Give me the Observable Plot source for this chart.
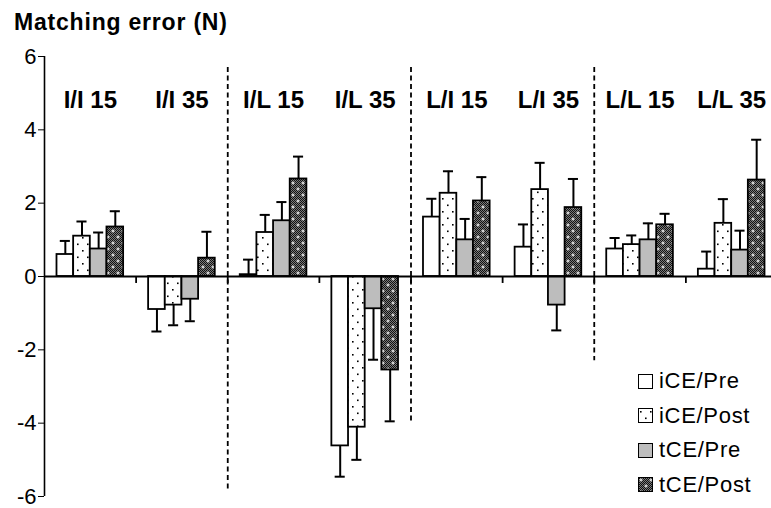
<!DOCTYPE html>
<html>
<head>
<meta charset="utf-8">
<script src="https://cdn.jsdelivr.net/npm/d3@7"></script>
<script src="https://cdn.jsdelivr.net/npm/@observablehq/plot@0.6"></script>
<style>
  html, body { margin: 0; padding: 0; background: #fff; }
  #wrap { position: relative; width: 771px; height: 508px; font-family: "Liberation Sans", Arial, Helvetica, sans-serif; }
  #title { position: absolute; left: 14px; top: 11px; font-size: 23px; line-height: 23px; font-weight: bold; letter-spacing: 0.8px; color: #000; }
  #legend { position: absolute; left: 638px; top: 369px; }
  .row { position: absolute; left: 0; height: 24px; display: flex; align-items: center; white-space: nowrap; font-size: 22px; letter-spacing: 0.7px; color: #000; }
  .row svg { margin-right: 6px; }
</style>
</head>
<body>
<svg width="0" height="0" style="position:absolute">
  <defs>
    <pattern id="dots" width="10" height="13" patternUnits="userSpaceOnUse">
      <rect width="10" height="13" fill="#fff"/>
      <rect x="2" y="3" width="1.6" height="1.6" fill="#000"/>
      <rect x="7" y="9.5" width="1.6" height="1.6" fill="#000"/>
    </pattern>
    <pattern id="grain" width="2" height="2" patternUnits="userSpaceOnUse">
      <rect width="2" height="2" fill="#7a7a7a"/>
      <rect x="0" y="0" width="1" height="1" fill="#111"/>
      <rect x="1" y="1" width="1" height="1" fill="#111"/>
    </pattern>
    <pattern id="cross" width="10" height="12" patternUnits="userSpaceOnUse">
      <rect width="10" height="12" fill="url(#grain)"/>
      <path d="M1.5,3h3M3,1.5v3M6.5,9h3M8,7.5v3" stroke="#fff" stroke-width="1"/>
    </pattern>
  </defs>
</svg>
<div id="wrap">
  <div id="chart"></div>
  <div id="title">Matching error (N)</div>
  <div id="legend"></div>
</div>
<script>
// Conditions (reference/target arm and force level)
const groups = ["I/I 15", "I/I 35", "I/L 15", "I/L 35", "L/I 15", "L/I 35", "L/L 15", "L/L 35"];
const series = ["iCE/Pre", "iCE/Post", "tCE/Pre", "tCE/Post"];

// Mean matching error (N) per condition, and its SD
const iCEPre     = [0.60, -0.90, 0.05, -4.62, 1.62,  0.80, 0.75, 0.20];
const iCEPreSD   = [0.37,  0.60, 0.41,  0.84, 0.50,  0.62, 0.30, 0.48];
const iCEPost    = [1.10, -0.78, 1.20, -4.11, 2.27,  2.37, 0.87, 1.45];
const iCEPostSD  = [0.40,  0.55, 0.48,  0.89, 0.60,  0.73, 0.25, 0.66];
const tCEPre     = [0.75, -0.62, 1.52, -0.88, 1.00, -0.78, 1.00, 0.72];
const tCEPreSD   = [0.45,  0.60, 0.51,  1.39, 0.57,  0.69, 0.45, 0.53];
const tCEPost    = [1.35,  0.50, 2.66, -2.55, 2.06,  1.88, 1.41, 2.63];
const tCEPostSD  = [0.43,  0.72, 0.61,  1.40, 0.65,  0.78, 0.30, 1.10];

const yTicks = [-6, -4, -2, 0, 2, 4, 6];

// Fills for each series
const fills = {
  "iCE/Pre": "#ffffff",
  "iCE/Post": "url(#dots)",
  "tCE/Pre": "#bdbdbd",
  "tCE/Post": "url(#cross)"
};

const means = [iCEPre, iCEPost, tCEPre, tCEPost];
const sds = [iCEPreSD, iCEPostSD, tCEPreSD, tCEPostSD];

// Each group occupies one unit on x; four adjacent bars sit in its middle
const step = 1 / 5.5;
const capHalf = 0.055;
const rows = [];
groups.forEach((g, gi) => {
  series.forEach((s, si) => {
    const mean = means[si][gi];
    const sd = sds[si][gi];
    const cx = gi + 0.5 + (si - 1.5) * step;
    rows.push({
      group: g, series: s, mean, sd,
      cx, x1: cx - step / 2, x2: cx + step / 2,
      end: mean + (mean < 0 ? -sd : sd)
    });
  });
});

// Dashed separators between arm pairings, and small ticks at every group boundary
const separators = [
  {at: 2, top: 5.7, bottom: -5.8},
  {at: 4, top: 5.7, bottom: -4.0},
  {at: 6, top: 5.7, bottom: -2.3}
];
const boundaries = d3.range(1, groups.length);

const chart = Plot.plot({
  width: 771,
  height: 508,
  marginLeft: 44,
  marginRight: 0,
  marginTop: 56,
  marginBottom: 12,
  style: {fontFamily: "Liberation Sans, Arial, Helvetica, sans-serif", fontSize: "22px", color: "#000", background: "#fff"},
  x: {domain: [0, groups.length], range: [44, 777], axis: null},
  y: {domain: [-6, 6], ticks: yTicks, tickSize: 6, tickPadding: 2, tickFormat: d => String(d), label: null},
  marks: [
    Plot.ruleX(separators, {x: "at", y1: "top", y2: "bottom", stroke: "#000", strokeWidth: 1.8, strokeDasharray: "5,3.5"}),
    Plot.ruleX(boundaries, {x: d => d, y1: 0, y2: -0.19, stroke: "#000", strokeWidth: 1.8}),
    Plot.ruleX(rows, {x: "cx", y1: "mean", y2: "end", stroke: "#000", strokeWidth: 2}),
    Plot.ruleY(rows, {y: "end", x1: d => d.cx - capHalf, x2: d => d.cx + capHalf, stroke: "#000", strokeWidth: 2}),
    Plot.rect(rows, {x1: "x1", x2: "x2", y1: 0, y2: "mean", fill: d => fills[d.series], stroke: "#000", strokeWidth: 1.8}),
    Plot.ruleY([0], {x1: 0, x2: groups.length, stroke: "#000", strokeWidth: 2}),
    Plot.ruleX([0], {y1: -6, y2: 6, stroke: "#000", strokeWidth: 1.6}),
    Plot.text(groups, {x: (d, i) => i + 0.5, frameAnchor: "top", dy: 34, text: d => d, fontSize: 24, fontWeight: "bold", fill: "#000"})
  ]
});
document.getElementById("chart").appendChild(chart);

// Legend
const legend = document.getElementById("legend");
const rowTops = [0, 34.5, 69, 103.5];
series.forEach((s, i) => {
  const row = document.createElement("div");
  row.className = "row";
  row.style.top = rowTops[i] + "px";
  row.innerHTML = `<svg width="15" height="15"><rect x="0.5" y="0.5" width="14" height="14" fill="${fills[s]}" stroke="#000" stroke-width="1"/></svg><span>${s}</span>`;
  legend.appendChild(row);
});
</script>
</body>
</html>
